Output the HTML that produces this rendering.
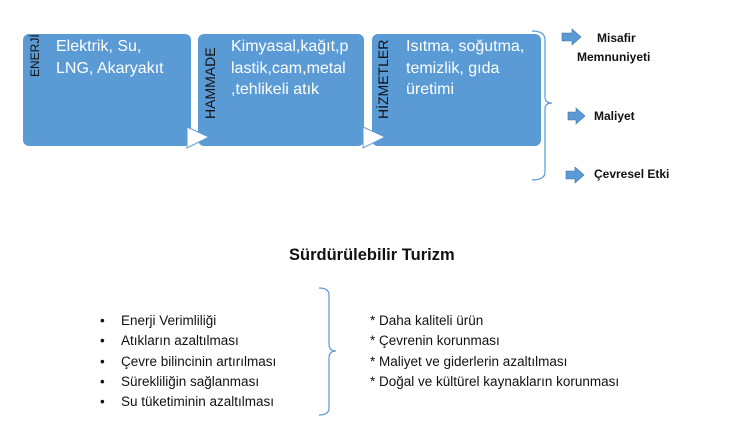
<!DOCTYPE html>
<html><head><meta charset="utf-8"><style>
body{margin:0;width:740px;height:439px;background:#fff;position:relative;overflow:hidden;font-family:"Liberation Sans",sans-serif}
.a{position:absolute;white-space:nowrap}
.box{position:absolute;top:34px;height:112px;background:#5b9bd5;border-radius:6px}
.v{position:absolute;transform-origin:0 0;transform:rotate(-90deg);font-size:14px;line-height:16px;color:#111;white-space:nowrap}
.t{position:absolute;color:#fff;font-size:16px;line-height:21.5px}
.s{font-size:13.5px;color:#111}
.b{font-size:12px;font-weight:bold;color:#111}
</style></head><body>
<div class="box" style="left:23px;width:168px"></div>
<div class="box" style="left:198px;width:166px"></div>
<div class="box" style="left:372px;width:169px"></div>
<svg class="a" style="left:0;top:0" width="740" height="439">
<polygon points="187,127 209,137 187,148" fill="#fff" stroke="#5b9bd5" stroke-width="1"/>
<polygon points="363,127 385,137 363,148" fill="#fff" stroke="#5b9bd5" stroke-width="1"/>
<path d="M532,31 Q545,31 545,40 L545,97 Q545,103 552,103 Q545,103 545,109 L545,172 Q545,180 532,180" fill="none" stroke="#5b9bd5" stroke-width="1.2"/>
<path d="M319,288 Q329,288 329,295 L329,344 Q329,351 336,351 Q329,351 329,358 L329,408 Q329,415 319,415" fill="none" stroke="#5b9bd5" stroke-width="1.2"/>
<polygon points="562,33 572,33 572,29 581,37 572,45 572,41 562,41" fill="#5b9bd5" stroke="#41719c" stroke-width="0.6"/>
<polygon points="568,112 576,112 576,108 585,116 576,124 576,120 568,120" fill="#5b9bd5" stroke="#41719c" stroke-width="0.6"/>
<polygon points="566,171 575,171 575,167 584,175 575,183 575,179 566,179" fill="#5b9bd5" stroke="#41719c" stroke-width="0.6"/>
</svg>
<div class="v" style="left:27px;top:77px;font-size:12px">ENERJİ</div>
<div class="v" style="left:202px;top:119px">HAMMADE</div>
<div class="v" style="left:375px;top:119px">HİZMETLER</div>
<div class="t" style="left:56px;top:36px">Elektrik, Su,<br>LNG, Akaryakıt</div>
<div class="t" style="left:231px;top:36px">Kimyasal,kağıt,p<br>lastik,cam,metal<br>,tehlikeli atık</div>
<div class="t" style="left:406px;top:36px">Isıtma, soğutma,<br>temizlik, gıda<br>üretimi</div>
<div class="a b" style="left:597px;top:31px">Misafir</div>
<div class="a b" style="left:577px;top:50px">Memnuniyeti</div>
<div class="a b" style="left:594px;top:109px">Maliyet</div>
<div class="a b" style="left:594px;top:167px">Çevresel Etki</div>
<div class="a" style="left:289px;top:246px;font-size:16.5px;font-weight:bold;color:#111">Sürdürülebilir Turizm</div>
<div class="a s" style="left:100px;top:311px;line-height:20.3px">•<br>•<br>•<br>•<br>•</div>
<div class="a s" style="left:121px;top:311px;line-height:20.3px">Enerji Verimliliği<br>Atıkların azaltılması<br>Çevre bilincinin artırılması<br>Sürekliliğin sağlanması<br>Su tüketiminin azaltılması</div>
<div class="a s" style="left:370px;top:311px;line-height:20.3px">* Daha kaliteli ürün<br>* Çevrenin korunması<br>* Maliyet ve giderlerin azaltılması<br>* Doğal ve kültürel kaynakların korunması</div>
</body></html>
